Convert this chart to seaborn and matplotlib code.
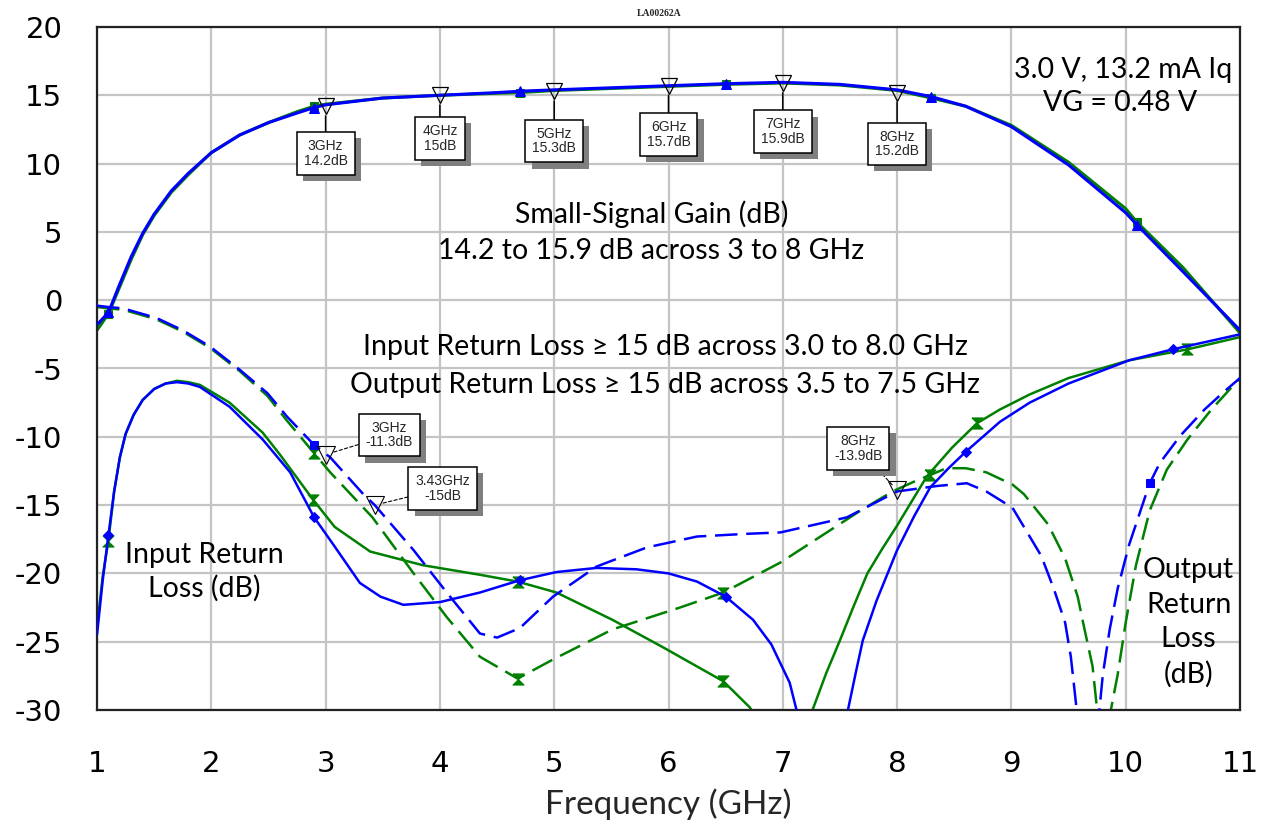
import numpy as np
import pandas as pd
import matplotlib
matplotlib.use("Agg")
import matplotlib.pyplot as plt
import matplotlib.patheffects as pe
import seaborn as sns

# ---------------- data ----------------
gain_f = [1.0, 1.1, 1.2, 1.3, 1.4, 1.5, 1.65, 1.8, 2.0, 2.25, 2.5, 2.75, 2.9, 3.0, 3.5, 4.0,
          4.5, 4.7, 5.0, 5.5, 6.0, 6.5, 7.0, 7.5, 8.0, 8.3, 8.6, 9.0, 9.5, 10.0, 10.1, 10.5, 11.0]
gain_blue = [-1.8, -0.9, 1.2, 3.2, 4.9, 6.3, 8.0, 9.3, 10.8, 12.1, 13.0, 13.7, 14.1, 14.3, 14.8, 15.0,
             15.2, 15.3, 15.4, 15.55, 15.7, 15.85, 15.95, 15.8, 15.4, 14.9, 14.2, 12.7, 9.9, 6.4, 5.5, 2.1, -2.2]
gain_green = [-2.2, -1.0, 1.0, 3.0, 4.8, 6.2, 7.9, 9.2, 10.8, 12.1, 13.0, 13.8, 14.2, 14.35, 14.8, 15.0,
              15.15, 15.2, 15.35, 15.5, 15.65, 15.8, 15.9, 15.75, 15.35, 14.8, 14.2, 12.8, 10.1, 6.7, 5.7, 2.4, -2.4]
gain_mk = [1.1, 2.9, 4.7, 6.5, 8.3, 10.1]

s11b_f = [1.0, 1.05, 1.1, 1.15, 1.2, 1.25, 1.32, 1.4, 1.5, 1.6, 1.7, 1.8, 1.9, 2.16, 2.45, 2.69,
          2.9, 3.06, 3.3, 3.48, 3.68, 4.0, 4.35, 4.7, 5.02, 5.37, 5.72, 6.0, 6.25, 6.5, 6.74, 6.9,
          6.98, 7.06, 7.12, 7.2, 7.35, 7.5, 7.57, 7.64, 7.7, 7.82, 8.0, 8.15, 8.29, 8.45, 8.6, 8.9,
          9.16, 9.5, 10.03, 10.41, 11.0]
s11b_v = [-24.5, -20.5, -17.2, -14.0, -11.5, -9.8, -8.4, -7.3, -6.5, -6.1, -6.0, -6.1, -6.35, -7.8, -10.2, -12.6,
          -15.9, -17.8, -20.7, -21.7, -22.3, -22.1, -21.4, -20.5, -19.9, -19.6, -19.7, -20.0, -20.6, -21.7, -23.4, -25.2,
          -26.6, -28.0, -30.0, -31.5, -33.0, -31.5, -30.0, -27.2, -24.9, -22.0, -18.3, -15.8, -13.7, -12.3, -11.1, -8.9,
          -7.5, -6.1, -4.4, -3.6, -2.5]
s11b_mk = [1.1, 2.9, 4.7, 6.5, 8.6, 10.41]

s11g_f = [1.0, 1.05, 1.1, 1.15, 1.2, 1.25, 1.32, 1.4, 1.5, 1.6, 1.7, 1.8, 1.9, 2.16, 2.45, 2.6,
          2.89, 3.08, 3.39, 3.85, 4.35, 4.68, 5.02, 5.51, 5.95, 6.48, 6.71, 6.85, 7.0, 7.15, 7.26, 7.38,
          7.5, 7.62, 7.74, 7.87, 8.0, 8.26, 8.48, 8.7, 8.9, 9.16, 9.5, 10.03, 10.54, 11.0]
s11g_v = [-24.0, -20.2, -17.6, -14.0, -11.5, -9.8, -8.4, -7.3, -6.5, -6.1, -5.9, -6.0, -6.2, -7.5, -9.7, -11.3,
          -14.6, -16.6, -18.4, -19.4, -20.1, -20.6, -21.4, -23.4, -25.4, -27.9, -29.8, -31.5, -33.0, -31.5, -30.0, -27.3,
          -24.9, -22.4, -20.0, -18.2, -16.5, -12.9, -10.8, -9.0, -8.0, -6.9, -5.7, -4.4, -3.6, -2.7]
s11g_mk = [1.1, 2.89, 4.68, 6.48, 8.7, 10.54]

s22b_f = [1.0, 1.1, 1.23, 1.52, 1.75, 1.99, 2.25, 2.49, 2.66, 2.9, 3.04, 3.33, 3.43, 3.77, 4.06, 4.35,
          4.5, 4.7, 4.99, 5.37, 5.81, 6.25, 6.69, 6.98, 7.56, 8.0, 8.35, 8.61, 8.78, 9.01, 9.26, 9.37,
          9.47, 9.52, 9.57, 9.65, 9.72, 9.77, 9.8, 9.86, 9.93, 10.03, 10.21, 10.3, 10.48, 10.69, 10.86, 11.0]
s22b_v = [-0.4, -0.5, -0.6, -1.3, -2.2, -3.4, -5.1, -6.8, -8.5, -10.6, -11.5, -14.2, -15.0, -18.3, -21.4, -24.4,
          -24.7, -24.0, -21.7, -19.5, -18.1, -17.3, -17.1, -17.0, -15.9, -14.0, -13.6, -13.4, -14.0, -15.2, -18.7, -21.1,
          -23.6, -26.1, -29.9, -34.0, -34.0, -30.0, -27.4, -24.1, -21.1, -17.9, -13.4, -11.9, -9.9, -8.0, -6.7, -5.7]
s22b_mk = [2.9, 10.21]

s22g_f = [1.0, 1.1, 1.23, 1.52, 1.75, 1.99, 2.25, 2.49, 2.66, 2.9, 3.04, 3.41, 3.77, 4.06, 4.35, 4.68,
          4.99, 5.51, 6.1, 6.48, 6.98, 7.68, 7.96, 8.17, 8.29, 8.43, 8.6, 8.78, 9.01, 9.11, 9.32, 9.47,
          9.58, 9.64, 9.71, 9.75, 9.8, 9.87, 9.93, 10.0, 10.09, 10.21, 10.36, 10.54, 10.75, 11.0]
s22g_v = [-0.5, -0.6, -0.7, -1.4, -2.3, -3.5, -5.2, -7.0, -8.8, -11.2, -12.6, -15.9, -20.0, -23.2, -26.1, -27.7,
          -26.3, -24.1, -22.5, -21.4, -19.2, -15.4, -14.0, -13.2, -12.8, -12.3, -12.3, -12.6, -13.5, -14.2, -16.4, -18.9,
          -21.7, -24.1, -26.8, -30.0, -34.0, -30.0, -27.4, -23.6, -19.4, -15.4, -12.4, -10.2, -8.0, -5.7]
s22g_mk = [2.9, 4.68, 6.48, 8.29]

# marker call-outs on the gain trace
gain_ann_f = [3, 4, 5, 6, 7, 8]
gain_ann_v = [14.2, 15.0, 15.3, 15.7, 15.9, 15.2]
gain_ann_txt = ["3GHz\n14.2dB", "4GHz\n15dB", "5GHz\n15.3dB", "6GHz\n15.7dB", "7GHz\n15.9dB", "8GHz\n15.2dB"]
gain_ann_dy = [-34, -31, -36, -35, -35, -37]

# marker call-outs on the output return loss trace
orl_ann_f = [3.0, 3.43, 8.0]
orl_ann_v = [-11.3, -15.0, -13.9]
orl_ann_txt = ["3GHz\n-11.3dB", "3.43GHz\n-15dB", "8GHz\n-13.9dB"]
orl_ann_off = [(46, 14), (49, 12), (-28, 30)]

x_ticks = list(range(1, 12))
y_ticks = list(range(-30, 21, 5))

BLUE = "#0000ff"
GREEN = "#008000"

# ---------------- style ----------------
sns.set_theme(style="white")
plt.rcParams["font.family"] = ["DejaVu Sans"]

fig = plt.figure(figsize=(12.61, 8.22), dpi=100)
ax = fig.add_axes([97 / 1261, 1 - 710 / 822, (1240 - 97) / 1261, (710 - 27) / 822])

HOUR = [(-1, 1), (1, 1), (-1, -1), (1, -1), (-1, 1)]


def draw(f, v, mk_list, color, lw, marker, ms, dashed=False, zorder=2):
    df = pd.DataFrame({"f": f, "v": v})
    idx = [i for i, x in enumerate(f) if any(abs(x - m) < 1e-9 for m in mk_list)]
    sns.lineplot(data=df, x="f", y="v", ax=ax, sort=False, estimator=None, color=color,
                 lw=lw, marker=marker, markersize=ms, markevery=idx, markeredgecolor=color,
                 markerfacecolor=color, zorder=zorder)
    line = ax.lines[-1]
    if dashed:
        line.set_dashes((9, 3.5))
    line.set_solid_capstyle("butt")
    line.set_solid_joinstyle("round")


# green traces first (under), then blue
draw(gain_f, gain_green, gain_mk, GREEN, 2.2, "s", 6)
draw(s11g_f, s11g_v, s11g_mk, GREEN, 1.8, HOUR, 8)
draw(s22g_f, s22g_v, s22g_mk, GREEN, 1.8, HOUR, 8, dashed=True)
draw(gain_f, gain_blue, gain_mk, BLUE, 2.2, "^", 7, zorder=3)
draw(s11b_f, s11b_v, s11b_mk, BLUE, 1.8, "D", 5, zorder=3)
draw(s22b_f, s22b_v, s22b_mk, BLUE, 1.8, "s", 6, dashed=True, zorder=3)

ax.set_xlim(1, 11)
ax.set_ylim(-30, 20)
ax.set_xticks(x_ticks)
ax.set_yticks(y_ticks)
ax.set_xticklabels([str(t) for t in x_ticks])
ax.set_yticklabels([str(t) for t in y_ticks])
ax.tick_params(axis="both", length=0, labelsize=21, colors="black")
ax.tick_params(axis="y", pad=25)
ax.tick_params(axis="x", pad=29)
ax.grid(True, color="#c4c4c4", lw=1.6, zorder=0)
ax.set_axisbelow(True)
for side in ["left", "right", "top", "bottom"]:
    ax.spines[side].set_visible(True)
    ax.spines[side].set_color("#222222")
    ax.spines[side].set_linewidth(1.6)

LATO = ["Lato", "DejaVu Sans"]
ax.set_xlabel("Frequency (GHz)", fontsize=24, family=LATO, labelpad=7)
ax.set_ylabel("")

# call-outs
BOXFONT = ["Liberation Sans Narrow", "Liberation Sans", "DejaVu Sans"]
shadow = [pe.withSimplePatchShadow(offset=(4.5, -4.5), shadow_rgbFace="#7f7f7f", alpha=1.0)]
for f, g, txt, dy in zip(gain_ann_f, gain_ann_v, gain_ann_txt, gain_ann_dy):
    ax.plot([f], [g], marker="v", ms=12, mfc="none", mec="black", mew=0.9, zorder=5)
    t = ax.annotate(txt, xy=(f, g), xytext=(0, dy), textcoords="offset points",
                    ha="center", va="center", fontsize=10, family=BOXFONT, linespacing=1.05,
                    bbox=dict(boxstyle="square,pad=0.5", fc="white", ec="black", lw=1.1),
                    arrowprops=dict(arrowstyle="-", color="black", lw=1.1, shrinkA=0, shrinkB=7),
                    zorder=6)
    t.get_bbox_patch().set_path_effects(shadow)

for f, g, txt, off in zip(orl_ann_f, orl_ann_v, orl_ann_txt, orl_ann_off):
    ax.plot([f], [g], marker="v", ms=13, mfc="none", mec="black", mew=0.8, zorder=5)
    t = ax.annotate(txt, xy=(f, g), xytext=off, textcoords="offset points",
                    ha="center", va="center", fontsize=10, family=BOXFONT, linespacing=1.05,
                    bbox=dict(boxstyle="square,pad=0.5", fc="white", ec="black", lw=1.1),
                    arrowprops=dict(arrowstyle="-", color="black", lw=0.8, ls=(0, (3, 2)),
                                    shrinkA=0, shrinkB=5),
                    zorder=6)
    t.get_bbox_patch().set_path_effects(shadow)

# text labels
TXT = dict(family=LATO, fontsize=20.5, color="black", zorder=7)
ax.text(5.85, 6.3, "Small-Signal Gain (dB)", ha="center", va="center", **TXT)
ax.text(5.85, 3.6, "14.2 to 15.9 dB across 3 to 8 GHz", ha="center", va="center", **TXT)
ax.text(5.97, -3.45, "Input Return Loss \u2265 15 dB across 3.0 to 8.0 GHz", ha="center", va="center", **TXT)
ax.text(5.97, -6.2, "Output Return Loss \u2265 15 dB across 3.5 to 7.5 GHz", ha="center", va="center", **TXT)
ax.text(10.93, 16.85, "3.0 V, 13.2 mA Iq", ha="right", va="center", **TXT)
ax.text(9.95, 14.4, "VG = 0.48 V", ha="center", va="center", **TXT)
ax.text(1.94, -19.9, "Input Return\nLoss (dB)", ha="center", va="center", linespacing=1.33, **TXT)
ax.text(10.55, -23.6, "Output\nReturn\nLoss\n(dB)", ha="center", va="center", linespacing=1.4, **TXT)

fig.text(0.523, 0.983, "LA00262A", ha="center", va="center", fontsize=7,
         family=["Liberation Serif", "DejaVu Serif"], weight="bold")

fig.savefig("out.png", dpi=100)
